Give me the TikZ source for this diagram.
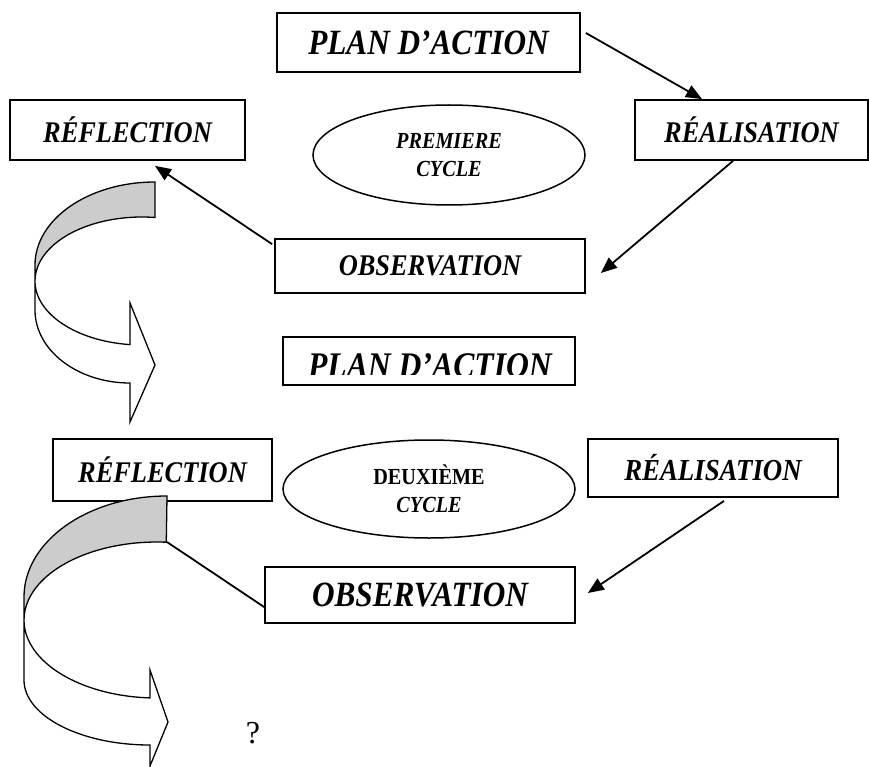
\documentclass[tikz,border=0pt]{standalone}
\usepackage{fontspec}
\setmainfont{Liberation Serif}
\newfontfamily\wordfont{Liberation Serif}[FakeStretch=0.88]
\usetikzlibrary{shapes.geometric,arrows.meta,calc}

\begin{document}
\begin{tikzpicture}[x=1pt,y=1pt,>={Triangle[length=16pt,width=13pt]},
  box/.style={draw,line width=1.8pt,inner sep=0pt,font=\wordfont\bfseries\itshape\fontsize{30}{34}\selectfont},
  cyc/.style={draw,ellipse,line width=1.5pt,inner sep=0pt,align=center,font=\wordfont\bfseries\itshape\fontsize{23}{28}\selectfont},
  link/.style={->,line width=1.8pt},
  band/.style={draw,line width=1.3pt}]
  \useasboundingbox (0,0) rectangle (869,-767);
  % premier cycle
  \node[box,minimum width=303pt,minimum height=59pt,font=\wordfont\bfseries\itshape\fontsize{35.5}{40}\selectfont] (plan1) at (428.5,-42.5) {PLAN D’ACTION};
  \node[box,minimum width=233pt,minimum height=60pt] (real1) at (751.5,-130) {RÉALISATION};
  \node[box,minimum width=235pt,minimum height=60pt] (refl1) at (127.5,-130) {RÉFLECTION};
  \node[cyc,minimum width=272pt,minimum height=100pt] (cyc1) at (449,-155) {PREMIERE\\CYCLE};
  \node[box,minimum width=310pt,minimum height=54pt] (obs1) at (430,-266) {OBSERVATION};
  \draw[link] ([shift={(5,9.5)}]plan1.east) -- ([xshift=-49.5pt]real1.north);
  \draw[link] ([xshift=-18.5pt]real1.south) -- ([shift={(15,-7)}]obs1.east);
  \draw[link] ([shift={(-2,-6)}]obs1.north west) -- ([shift={(27.5,-5)}]refl1.south);
  % fleche courbe 1
  \filldraw[band,fill=black!20] (155,-182) arc[start angle=90,end angle=180,x radius=120,y radius=83]
    -- (35,-281) arc[start angle=180,end angle=83,x radius=107,y radius=64] -- cycle;
  \filldraw[band,fill=white] (35,-281) arc[start angle=180,end angle=263.6,x radius=107,y radius=64]
    -- (130,-303) -- (155,-365) -- (130,-422) -- (130,-383)
    arc[start angle=270,end angle=180,x radius=95,y radius=73] -- cycle;
  % deuxieme cycle
  \node[box,minimum width=292pt,minimum height=48pt] (plan2) at (429,-361) {};
  \begin{scope}
    \clip (plan2.north west) rectangle ([yshift=11pt]plan2.south east);
    \node[anchor=base,inner sep=0pt,font=\wordfont\bfseries\itshape\fontsize{36}{40}\selectfont] (plan2txt) at (430,-377) {PLAN D’ACTION};
  \end{scope}
  \node[box,minimum width=219pt,minimum height=62pt] (refl2) at (162.5,-470) {RÉFLECTION};
  \node[cyc,minimum width=292pt,minimum height=98pt] (cyc2) at (429,-489) {{\upshape DEUXIÈME}\\CYCLE};
  \node[box,minimum width=250pt,minimum height=58pt,font=\wordfont\bfseries\itshape\fontsize{30.5}{34}\selectfont] (real2) at (713,-468) {RÉALISATION};
  \node[box,minimum width=310pt,minimum height=56pt,font=\wordfont\bfseries\itshape\fontsize{35.5}{40}\selectfont] (obs2) at (420,-595) {OBSERVATION};
  \draw[link] ([shift={(11,-3)}]real2.south) -- ([shift={(12,2)}]obs2.east);
  % fleche courbe 2
  \filldraw[band,fill=black!20] (167,-496) arc[start angle=90,end angle=180,x radius=143,y radius=101]
    -- (24,-620) arc[start angle=180,end angle=86,x radius=133,y radius=78] -- cycle;
  \filldraw[band,fill=white] (24,-620) arc[start angle=180,end angle=267,x radius=133,y radius=78]
    -- (150,-670) -- (168,-722) -- (150,-766) -- (150,-745)
    arc[start angle=270,end angle=180,x radius=126,y radius=65] -- cycle;
  \coordinate (tail2) at (167,-542);
  \draw[line width=1.8pt] (tail2) -- ([yshift=-12pt]obs2.west);
  \node[font=\fontsize{32}{36}\selectfont] (qmark) at (253,-733) {?};
\end{tikzpicture}
\end{document}
